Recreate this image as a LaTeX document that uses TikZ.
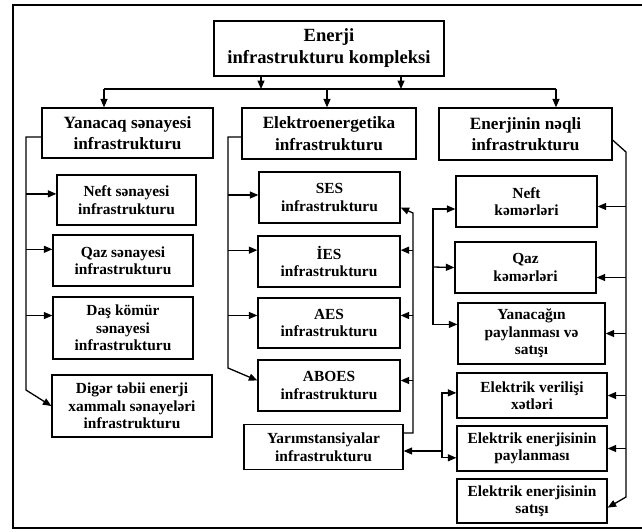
\documentclass[tikz,border=0pt]{standalone}
\usepackage{fontspec}
\setmainfont{Liberation Serif}
\usetikzlibrary{arrows.meta}
\tikzset{>={Triangle[length=8.5pt,width=7pt]},
xett/.style={line width=1.3pt},
ox/.style={->, xett},
%boxes: small text by default
qutu/.style={draw, line width=1.3pt, align=center, inner sep=0pt, font=\bfseries\fontsize{15.4}{17.5}\selectfont},
qutub/.style={qutu, font=\bfseries\fontsize{17.2}{21.5}\selectfont}}

\begin{document}
\begin{tikzpicture}[x=1pt,y=-1pt]

\useasboundingbox (0,0) rectangle (642,531);
\draw[line width=1.8pt] (650,5) -- (13,5) -- (13,528) -- (650,528);

\node[qutub, font=\bfseries\fontsize{18.6}{22}\selectfont, minimum width=230pt, minimum height=55pt] (top) at (329,48.5) {Enerji\\infrastrukturu kompleksi};

\node[qutub, minimum width=171pt, minimum height=50pt] (yan) at (127.5,133) {Yanacaq sənayesi\\infrastrukturu};
\node[qutub, minimum width=174pt, minimum height=51pt] (ele) at (329,133.5) {Elektroenergetika\\infrastrukturu};
\node[qutub, minimum width=173pt, minimum height=52pt] (enr) at (525.5,134) {Enerjinin nəqli\\infrastrukturu};

\node[qutu, minimum width=139pt, minimum height=50pt] (neft) at (126.5,200) {Neft sənayesi\\infrastrukturu};
\node[qutu, minimum width=140pt, minimum height=51pt] (qaz) at (123,260.5) {Qaz sənayesi\\infrastrukturu};
\node[qutu, minimum width=140pt, minimum height=62pt] (das) at (123,328) {Daş kömür\\sənayesi\\infrastrukturu};
\node[qutu, minimum width=160pt, minimum height=62pt] (diger) at (132,406) {Digər təbii enerji\\xammalı sənayeləri\\infrastrukturu};

\node[qutu, minimum width=141pt, minimum height=51pt] (ses) at (329.5,197.5) {SES\\infrastrukturu};
\node[qutu, minimum width=142pt, minimum height=51pt] (ies) at (329,261.5) {İES\\infrastrukturu};
\node[qutu, minimum width=142pt, minimum height=50pt] (aes) at (329,323) {AES\\infrastrukturu};
\node[qutu, minimum width=142pt, minimum height=51pt] (aboes) at (329,385.5) {ABOES\\infrastrukturu};
\node[qutu, minimum width=159pt, minimum height=45pt] (yarim) at (323.5,447) {Yarımstansiyalar\\infrastrukturu};

\node[qutu, minimum width=141pt, minimum height=51pt] (nkem) at (526.5,201.5) {Neft\\kəmərləri};
\node[qutu, minimum width=141pt, minimum height=51pt] (qkem) at (525.5,267.5) {Qaz\\kəmərləri};
\node[qutu, minimum width=147pt, minimum height=61pt] (yansat) at (531.5,333.5) {Yanacağın\\paylanması və\\satışı};
\node[qutu, minimum width=150pt, minimum height=45pt] (ever) at (532,395.5) {Elektrik verilişi\\xətləri};
\node[qutu, minimum width=150pt, minimum height=45pt] (epay) at (532,448.5) {Elektrik enerjisinin\\paylanması};
\node[qutu, minimum width=150pt, minimum height=44pt] (esat) at (532,501) {Elektrik enerjisinin\\satışı};

% bus under the top box
\coordinate (b1) at (261,89);
\coordinate (b2) at (401,89);
\coordinate (bl) at (104,89);
\coordinate (bm) at (327,89);
\coordinate (br) at (556,89);

\draw[ox] (top.south -| b1) -- (b1);
\draw[ox] (top.south -| b2) -- (b2);
\draw[xett] (bl) -- (br);
\foreach \n/\c in {yan/bl, ele/bm, enr/br}
    \draw[ox] (\c) -- (\n.north -| \c);

% left column
\coordinate (l1) at (26,137);
\coordinate (l2) at (26,390);
\draw[ox] (yan.west |- l1) -- (l1) -- (l2) -- (diger.west);
\foreach \n/\a in {neft/175, qaz/171, das/170}
    \draw[ox] (l1 |- \n.\a) -- (\n.\a);

% middle column
\coordinate (m1) at (228,137);
\coordinate (m2) at (228,368);
\draw[ox] (ele.west |- m1) -- (m1) -- (m2) -- (aboes.176);
\foreach \n/\a in {ses/178, ies/171, aes/174}
    \draw[ox] (m1 |- \n.\a) -- (\n.\a);

\coordinate (r1) at (413,213);
\coordinate (r2) at (413,433);
\draw[ox] (yarim.east |- r2) -- (r2) -- (r1) -- (ses.352);
\foreach \n/\a in {ies/9, aes/6, aboes/4}
    \draw[ox] (r1 |- \n.\a) -- (\n.\a);

% right column
\coordinate (s1) at (626,152);
\coordinate (s2) at (626,497);
\draw[ox] (enr.356) -- (s1) -- (s2) -- (esat.355);
\foreach \n/\a in {nkem/356, qkem/352, yansat/0, ever/0, epay/0}
    \draw[ox] (s1 |- \n.\a) -- (\n.\a);

\coordinate (k1) at (433,267);
\draw[<->, xett] (nkem.186) -| (k1) |- (yansat.173);
\draw[ox] (k1) -- (qkem.west);

\coordinate (k2) at (442,451);
\draw[<->, xett] (ever.178) -| (k2) |- (epay.187);
\draw[ox] (k2) -- (yarim.east |- k2);

\end{tikzpicture}
\end{document}
